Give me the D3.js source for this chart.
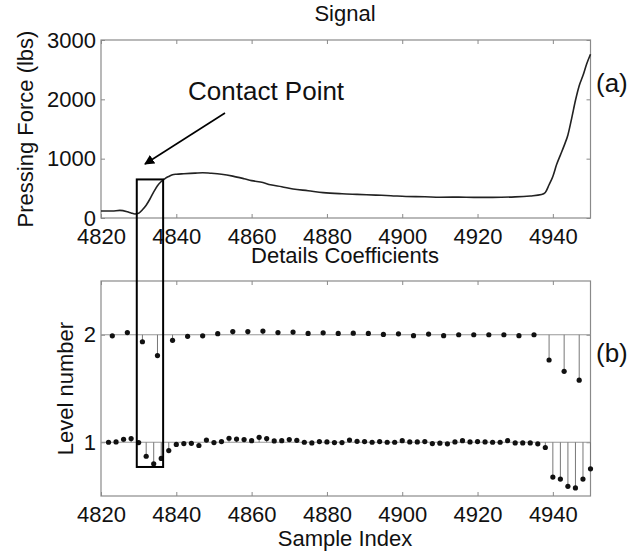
<!DOCTYPE html>
<html>
<head>
<meta charset="utf-8">
<script src="https://cdn.jsdelivr.net/npm/d3@7"></script>
<style>
  body { margin: 0; background: #fff; }
  text { font-family: "Liberation Sans", Arial, sans-serif; fill: #111; }
</style>
</head>
<body>
<div id="chart"></div>
<script>
// signal (a): pressing force vs sample index
const signalSample = [4820, 4823, 4825, 4827, 4828, 4829, 4830, 4831, 4832, 4833, 4834, 4835, 4836, 4837, 4838, 4839, 4840, 4842, 4845, 4847, 4849, 4852, 4855, 4858, 4860, 4863, 4865, 4868, 4871, 4875, 4879, 4884, 4888, 4893, 4897, 4901, 4906, 4910, 4915, 4919, 4924, 4930, 4934, 4937, 4938, 4939, 4940, 4941, 4942, 4943, 4944, 4945, 4946, 4947, 4948, 4949, 4950];
const signalForce = [118, 118, 128, 105, 85, 68, 80, 140, 215, 320, 440, 545, 615, 665, 700, 728, 738, 746, 756, 763, 755, 738, 706, 662, 630, 598, 560, 528, 490, 460, 428, 408, 398, 386, 376, 362, 358, 350, 352, 348, 348, 356, 372, 395, 430, 560, 700, 900, 1060, 1220, 1400, 1680, 1980, 2230, 2400, 2600, 2760];

// details coefficients (b), level 2
const level2Sample = [4823, 4827, 4831, 4835, 4839, 4843, 4847, 4851, 4855, 4859, 4863, 4867, 4871, 4875, 4879, 4883, 4887, 4891, 4895, 4899, 4903, 4907, 4911, 4915, 4919, 4923, 4927, 4931, 4935, 4939, 4943, 4947];
const level2Value = [1.99, 2.02, 1.935, 1.806, 1.948, 1.985, 1.99, 2.01, 2.03, 2.03, 2.034, 2.02, 2.025, 2.012, 2.018, 2.012, 2.015, 2.012, 2.003, 2.009, 1.991, 2.006, 1.991, 2.0, 2.0, 2.0, 2.0, 1.991, 2.0, 1.765, 1.66, 1.577];

// level 1
const level1Sample = [4822, 4824, 4826, 4828, 4830, 4832, 4834, 4836, 4838, 4840, 4842, 4844, 4846, 4848, 4850, 4852, 4854, 4856, 4858, 4860, 4862, 4864, 4866, 4868, 4870, 4872, 4874, 4876, 4878, 4880, 4882, 4884, 4886, 4888, 4890, 4892, 4894, 4896, 4898, 4900, 4902, 4904, 4906, 4908, 4910, 4912, 4914, 4916, 4918, 4920, 4922, 4924, 4926, 4928, 4930, 4932, 4934, 4936, 4938, 4940, 4942, 4944, 4946, 4948, 4950];
const level1Value = [1.0, 1.003, 1.028, 1.034, 0.997, 0.87, 0.8, 0.85, 0.923, 0.98, 0.988, 0.99, 0.97, 1.02, 0.997, 1.006, 1.037, 1.03, 1.025, 1.015, 1.046, 1.034, 1.012, 1.015, 1.025, 1.018, 1.0, 0.994, 1.006, 1.003, 0.997, 0.997, 1.02, 1.009, 1.006, 1.0, 1.006, 1.0, 1.0, 1.015, 1.003, 1.003, 1.006, 0.988, 0.991, 0.985, 1.003, 1.015, 1.003, 1.006, 1.003, 1.0, 1.0, 1.015, 0.994, 0.994, 0.994, 0.985, 0.951, 0.676, 0.657, 0.59, 0.575, 0.657, 0.753];

const xTicks = [4820, 4840, 4860, 4880, 4900, 4920, 4940];
const forceTicks = [0, 1000, 2000, 3000];
const levelTicks = [1, 2];

// contact point box: sample range, force top, level bottom
const boxSample = [4829.5, 4836.5];
const boxForceTop = 650;
const boxLevelBottom = 0.77;

const width = 641, height = 554;
const axisColor = "#8a8a8a";

const svg = d3.select("#chart").append("svg")
    .attr("width", width)
    .attr("height", height);

svg.append("rect").attr("width", width).attr("height", height).attr("fill", "#fff");

const xScale = d3.scaleLinear().domain([4820, 4950]).range([101, 590.5]);
const yForce = d3.scaleLinear().domain([0, 3000]).range([218, 40]);
const yLevel = d3.scaleLinear().domain([0.5, 2.5]).range([496, 281]);

function styleAxis(g) {
    g.select(".domain").remove();
    g.selectAll(".tick line").attr("stroke", axisColor);
    g.selectAll(".tick text").attr("font-size", 22).attr("fill", "#111")
        .attr("font-family", "Liberation Sans, Arial, sans-serif");
}

function drawFrame(yScale, yTicks) {
    const [x0, x1] = xScale.range();
    const [y0, y1] = yScale.range();
    svg.append("g").attr("transform", `translate(0,${y0})`)
        .call(d3.axisBottom(xScale).tickValues(xTicks).tickFormat(d3.format("d"))
            .tickSizeInner(-4).tickSizeOuter(0).tickPadding(10))
        .call(styleAxis);
    svg.append("g").attr("transform", `translate(0,${y1})`)
        .call(d3.axisTop(xScale).tickValues(xTicks).tickFormat("")
            .tickSizeInner(-4).tickSizeOuter(0))
        .call(styleAxis);
    svg.append("g").attr("transform", `translate(${x0},0)`)
        .call(d3.axisLeft(yScale).tickValues(yTicks).tickFormat(d3.format("d"))
            .tickSizeInner(-4).tickSizeOuter(0).tickPadding(5))
        .call(styleAxis);
    svg.append("g").attr("transform", `translate(${x1},0)`)
        .call(d3.axisRight(yScale).tickValues(yTicks).tickFormat("")
            .tickSizeInner(-4).tickSizeOuter(0))
        .call(styleAxis);
    svg.append("rect")
        .attr("x", x0).attr("y", y1)
        .attr("width", x1 - x0).attr("height", y0 - y1)
        .attr("fill", "none").attr("stroke", axisColor).attr("stroke-width", 1.2);
}

// ---- top panel: signal
drawFrame(yForce, forceTicks);

const signal = signalSample.map((s, i) => ({ s: s, f: signalForce[i] }));
svg.append("path")
    .datum(signal)
    .attr("fill", "none")
    .attr("stroke", "#222")
    .attr("stroke-width", 1.6)
    .attr("d", d3.line().x(d => xScale(d.s)).y(d => yForce(d.f)).curve(d3.curveMonotoneX));

svg.append("text").attr("x", 345).attr("y", 21)
    .attr("text-anchor", "middle").attr("font-size", 22).text("Signal");
svg.append("text")
    .attr("transform", `translate(33,${(yForce.range()[0] + yForce.range()[1]) / 2}) rotate(-90)`)
    .attr("text-anchor", "middle").attr("font-size", 22).text("Pressing Force (lbs)");
svg.append("text").attr("x", 345).attr("y", 263)
    .attr("text-anchor", "middle").attr("font-size", 22).text("Details Coefficients");
svg.append("text").attr("x", 596).attr("y", 92)
    .attr("font-size", 26).text("(a)");

// ---- bottom panel: stems
drawFrame(yLevel, levelTicks);

levelTicks.forEach(l => {
    svg.append("line")
        .attr("x1", xScale.range()[0]).attr("x2", xScale.range()[1])
        .attr("y1", yLevel(l)).attr("y2", yLevel(l))
        .attr("stroke", "#999").attr("stroke-width", 1.2);
});

const stems = level2Sample.map((s, i) => ({ s: s, v: level2Value[i], base: 2 }))
    .concat(level1Sample.map((s, i) => ({ s: s, v: level1Value[i], base: 1 })));

svg.append("g").selectAll("line")
    .data(stems)
    .enter().append("line")
    .attr("x1", d => xScale(d.s)).attr("x2", d => xScale(d.s))
    .attr("y1", d => yLevel(d.base)).attr("y2", d => yLevel(d.v))
    .attr("stroke", "#777").attr("stroke-width", 1);

svg.append("g").selectAll("circle")
    .data(stems)
    .enter().append("circle")
    .attr("cx", d => xScale(d.s)).attr("cy", d => yLevel(d.v))
    .attr("r", 2.6).attr("fill", "#111");

svg.append("text")
    .attr("transform", `translate(73,${(yLevel.range()[0] + yLevel.range()[1]) / 2}) rotate(-90)`)
    .attr("text-anchor", "middle").attr("font-size", 22).text("Level number");
svg.append("text").attr("x", 345).attr("y", 546)
    .attr("text-anchor", "middle").attr("font-size", 22).text("Sample Index");
svg.append("text").attr("x", 596).attr("y", 362)
    .attr("font-size", 26).text("(b)");

// ---- contact point box spanning both panels
svg.append("rect")
    .attr("x", xScale(boxSample[0]))
    .attr("y", yForce(boxForceTop))
    .attr("width", xScale(boxSample[1]) - xScale(boxSample[0]))
    .attr("height", yLevel(boxLevelBottom) - yForce(boxForceTop))
    .attr("fill", "none").attr("stroke", "#000").attr("stroke-width", 2);

// annotation arrow
svg.append("defs").append("marker")
    .attr("id", "arrowHead")
    .attr("viewBox", "0 0 10 10")
    .attr("refX", 9).attr("refY", 5)
    .attr("markerWidth", 10).attr("markerHeight", 10)
    .attr("markerUnits", "userSpaceOnUse")
    .attr("orient", "auto")
    .append("path").attr("d", "M0,0 L10,5 L0,10 z").attr("fill", "#000");

svg.append("line")
    .attr("x1", 225).attr("y1", 113)
    .attr("x2", 145).attr("y2", 164)
    .attr("stroke", "#000").attr("stroke-width", 1.6)
    .attr("marker-end", "url(#arrowHead)");

svg.append("text").attr("x", 188).attr("y", 100)
    .attr("font-size", 26).text("Contact Point");
</script>
</body>
</html>
